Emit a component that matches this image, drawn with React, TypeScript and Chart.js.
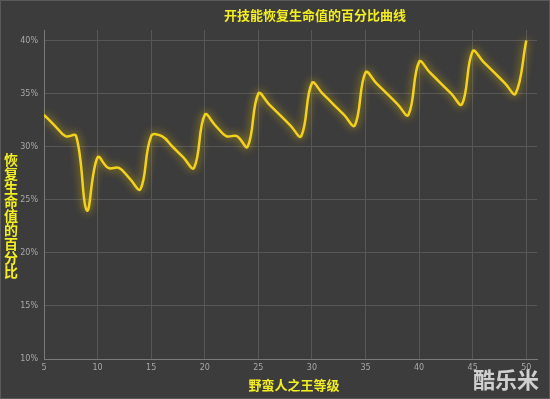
import React, { useEffect, useRef } from "react";
import { Chart, registerables } from "chart.js";

Chart.register(...registerables);

const levels = [5,6,7,8,9,10,11,12,13,14,15,16,17,18,19,20,21,22,23,24,25,26,27,28,29,30,31,32,33,34,35,36,37,38,39,40,41,42,43,44,45,46,47,48,49,50];
const percentValues = [33,32,31,31,24,29,28,28,27,26,31,31,30,29,28,33,32,31,31,30,35,34,33,32,31,36,35,34,33,32,37,36,35,34,33,38,37,36,35,34,39,38,37,36,35,40];
const xTickValues = [5,10,15,20,25,30,35,40,45,50];
const yTickValues = [10,15,20,25,30,35,40];
const chartTitle = "开技能恢复生命值的百分比曲线";
const xAxisTitle = "野蛮人之王等级";
const yAxisTitle = "恢复生命值的百分比";
const watermark = "酷乐米";

const decorPlugin = {
  id: "decor",
  beforeDraw(chart: any) {
    const { ctx, width, height } = chart;
    ctx.save();
    ctx.fillStyle = "#3c3c3c";
    ctx.fillRect(0, 0, width, height);
    ctx.strokeStyle = "#5a5a5a";
    ctx.lineWidth = 1;
    ctx.strokeRect(0.5, 0.5, width - 1, height - 1);
    ctx.restore();
  },
  afterDraw(chart: any) {
    const { ctx } = chart;
    ctx.save();
    ctx.fillStyle = "#f2ee22";
    ctx.textAlign = "center";
    ctx.textBaseline = "middle";
    ctx.font = "bold 13px 'Noto Sans CJK SC'";
    ctx.fillText(chartTitle, 315, 15);
    ctx.fillText(xAxisTitle, 294, 385);
    ctx.font = "bold 14px 'Noto Sans CJK SC'";
    const chars = Array.from(yAxisTitle);
    chars.forEach((c, i) => {
      ctx.fillText(c, 11, 160 + i * 14);
    });
    ctx.fillStyle = "#d0d0d0";
    ctx.font = "bold 22px 'Noto Sans CJK SC'";
    ctx.fillText(watermark, 506, 380);
    ctx.restore();
  },
  beforeDatasetDraw(chart: any) {
    const ctx = chart.ctx;
    ctx.save();
    ctx.shadowColor = "rgba(255, 210, 0, 0.8)";
    ctx.shadowBlur = 9;
  },
  afterDatasetDraw(chart: any) {
    chart.ctx.restore();
  },
};

export default function App() {
  const ref = useRef<HTMLCanvasElement | null>(null);
  useEffect(() => {
    document.body.style.margin = "0";
    const canvas = ref.current!;
    const chart = new Chart(canvas, {
      type: "line",
      data: {
        datasets: [
          {
            data: levels.map((l, i) => ({ x: l, y: percentValues[i] })),
            borderColor: "#f3d21c",
            borderWidth: 2.5,
            pointRadius: 0,
            tension: 0.4,
            fill: false,
          },
        ],
      },
      options: {
        animation: false,
        responsive: false,
        layout: { padding: { left: 0, right: 13, top: 30, bottom: 0 } },
        plugins: { legend: { display: false }, tooltip: { enabled: false }, title: { display: false } },
        scales: {
          x: {
            type: "linear",
            min: 5,
            max: 51,
            afterBuildTicks: (s: any) => {
              s.ticks = xTickValues.map((v) => ({ value: v }));
            },
            afterFit: (s: any) => {
              s.height = 40;
            },
            ticks: { color: "#a8a8a8", font: { size: 8, family: "'DejaVu Sans'" }, padding: 4, maxRotation: 0, autoSkip: false },
            grid: { color: "#575757", lineWidth: 1, drawTicks: false },
            border: { color: "#7a7a7a", width: 1 },
          },
          y: {
            min: 10,
            max: 41,
            afterBuildTicks: (s: any) => {
              s.ticks = yTickValues.map((v) => ({ value: v }));
            },
            afterFit: (s: any) => {
              s.width = 44;
            },
            ticks: { color: "#a8a8a8", font: { size: 8, family: "'DejaVu Sans'" }, padding: 6, autoSkip: false, callback: (v: any) => v + "%" },
            grid: { color: "#575757", lineWidth: 1, drawTicks: false },
            border: { color: "#7a7a7a", width: 1 },
          },
        },
      },
      plugins: [decorPlugin],
    });
    return () => chart.destroy();
  }, []);
  return (
    <div style={{ width: 550, height: 399 }}>
      <canvas ref={ref} width={550} height={399} style={{ display: "block" }} />
    </div>
  );
}
